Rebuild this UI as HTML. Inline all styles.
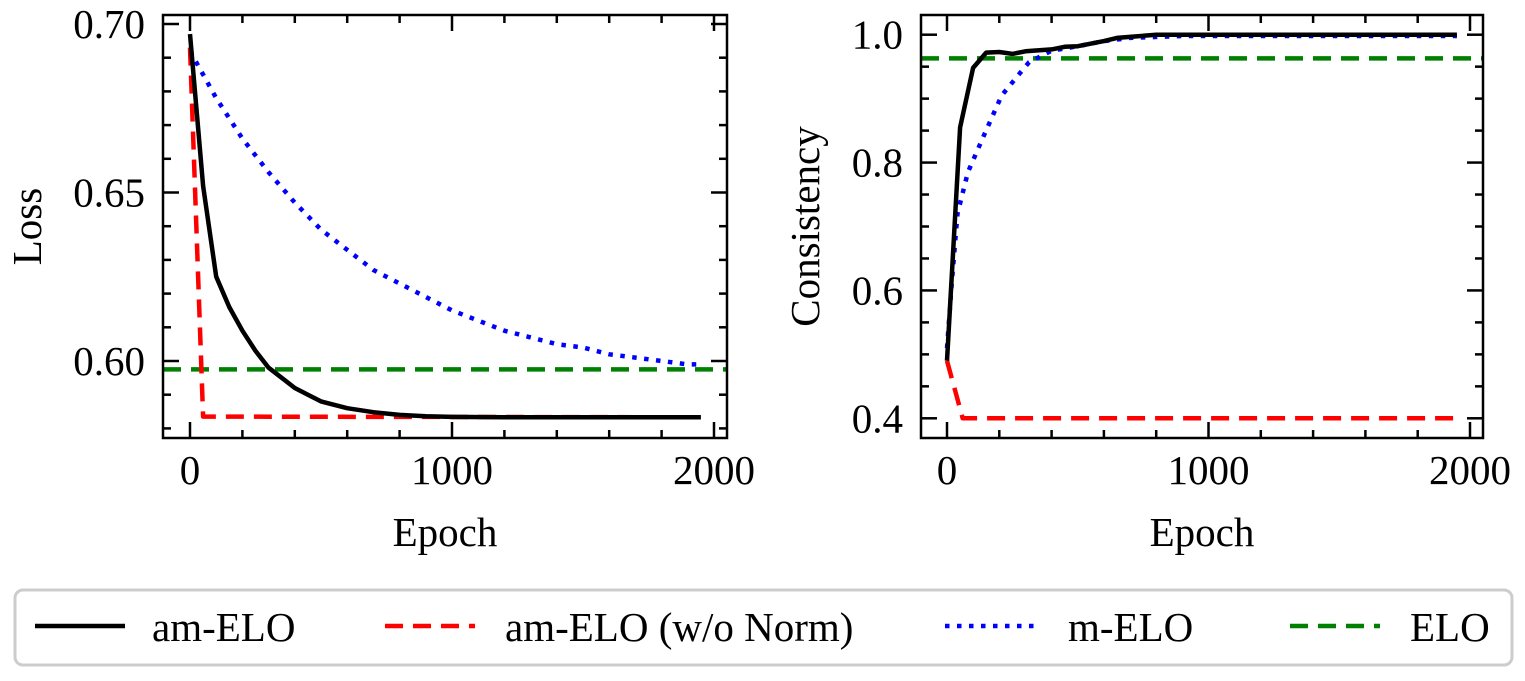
<!DOCTYPE html>
<html><head><meta charset="utf-8"><style>
html,body{margin:0;padding:0;background:#fff;}
svg{display:block;font-family:"Liberation Serif",serif;}
</style></head><body>
<svg id="fig" width="1525" height="681" viewBox="0 0 1525 681"></svg>
<script>
const lossEpochs=[0,50,100,150,200,250,300,350,400,450,500,600,700,800,900,1000,1200,1400,1600,1800,1950];
const lossAmElo=[0.697,0.652,0.625,0.616,0.609,0.603,0.598,0.595,0.592,0.590,0.588,0.586,0.5848,0.584,0.5836,0.5834,0.5833,0.5833,0.5833,0.5833,0.5833];
const lossNoNormEpochs=[0,50,1950];
const lossNoNorm=[0.693,0.5835,0.5833];
const lossMEloEpochs=[0,100,200,300,400,500,600,700,800,900,1000,1100,1200,1300,1400,1500,1600,1700,1800,1900,1950];
const lossMElo=[0.692,0.678,0.666,0.656,0.647,0.639,0.633,0.627,0.623,0.619,0.615,0.612,0.609,0.607,0.605,0.604,0.602,0.601,0.600,0.599,0.599];
const lossElo=0.5975;
const consAmEloEpochs=[0,50,100,150,200,250,300,400,450,500,600,650,800,1000,1500,1950];
const consAmElo=[0.49,0.855,0.948,0.972,0.973,0.970,0.974,0.977,0.981,0.982,0.990,0.995,1.0,1.0,1.0,1.0];
const consNoNormEpochs=[0,60,1950];
const consNoNorm=[0.49,0.40,0.40];
const consMEloEpochs=[0,20,40,80,145,209,279,314,400,500,600,700,900,1200,1950];
const consMElo=[0.51,0.62,0.72,0.785,0.846,0.905,0.94,0.957,0.975,0.982,0.99,0.995,0.998,0.998,0.998];
const consElo=0.963;
const xTicks=[0,1000,2000];
const lossTicks=[0.60,0.65,0.70];
const lossTickLabels=["0.60","0.65","0.70"];
const consTicks=[0.4,0.6,0.8,1.0];
const consTickLabels=["0.4","0.6","0.8","1.0"];

const NS="http://www.w3.org/2000/svg";
const svg=document.getElementById('fig');
function el(tag,attrs,parent){const e=document.createElementNS(NS,tag);for(const k in attrs)e.setAttribute(k,attrs[k]);(parent||svg).appendChild(e);return e;}
const FS='font-size:41px';

function panel(o){
  const g=el('g',{});
  
  
  const xs=v=>o.x0+(v-0)*(o.x2000-o.x0)/2000;
  const ys=v=>o.yA+(v-o.vA)*(o.yB-o.yA)/(o.vB-o.vA);
  const cid='clip'+o.name;
  const cp=el('clipPath',{id:cid},g);el('rect',{x:o.L,y:o.T,width:o.R-o.L,height:o.B-o.T},cp);
  const plot=el('g',{'clip-path':'url(#'+cid+')'},g);
  function line(xsArr,vals,color,dash,name,w){
    const p=el('polyline',{points:xsArr.map((x,i)=>xs(x).toFixed(1)+','+ys(vals[i]).toFixed(1)).join(' '),fill:'none',stroke:color,'stroke-width':w||4.5,'stroke-dasharray':dash||'none','stroke-linejoin':'round'},plot);
    
    
  }
  const eg=el('line',{x1:o.L,x2:o.R,y1:ys(o.elo),y2:ys(o.elo),stroke:'#008000','stroke-width':4.5,'stroke-dasharray':'18,10'},plot);
  
  
  line(o.mX,o.mV,'#0000ff','4.5,7.5','m-elo-line',4.5);
  line(o.nX,o.nV,'#ff0000','18,10','am-elo-no-norm-line');
  line(o.aX,o.aV,'#000000',null,'am-elo-line');
  el('rect',{x:o.L,y:o.T,width:o.R-o.L,height:o.B-o.T,fill:'none',stroke:'#000','stroke-width':2.5},g);
  for(let v=0;v<=2000;v+=200){const X=xs(v);const len=(v%1000===0)?16:8;
    el('line',{x1:X,x2:X,y1:o.B,y2:o.B-len,stroke:'#000','stroke-width':2.5},g);
    el('line',{x1:X,x2:X,y1:o.T,y2:o.T+len,stroke:'#000','stroke-width':2.5},g);}
  xTicks.forEach(v=>{const t=el('text',{x:xs(v),y:o.B+46,style:FS,'text-anchor':'middle'},g);t.textContent=v;
    });
  for(let v=o.minorStart;v<=o.minorEnd+1e-9;v+=o.minorStep){const Y=ys(v);
    const isMaj=o.yt.some(t=>Math.abs(t-v)<1e-6);const len=isMaj?16:8;
    el('line',{x1:o.L,x2:o.L+len,y1:Y,y2:Y,stroke:'#000','stroke-width':2.5},g);
    el('line',{x1:o.R,x2:o.R-len,y1:Y,y2:Y,stroke:'#000','stroke-width':2.5},g);}
  o.yt.forEach((v,i)=>{const t=el('text',{x:o.L-18,y:ys(v)+14,style:FS,'text-anchor':'end'},g);t.textContent=o.ytl[i];
    });
  const xl=el('text',{x:(o.L+o.R)/2,y:546,style:FS,'text-anchor':'middle'},g);xl.textContent='Epoch';
  
  const yl=el('text',{x:0,y:0,style:FS,'text-anchor':'middle',transform:'translate('+o.ylx+','+((o.T+o.B)/2)+') rotate(-90)'},g);yl.textContent=o.ylabel;
  
}
panel({name:'loss-panel',L:163,R:727,T:15,B:438,x0:190,x2000:714,yA:24,vA:0.70,yB:361,vB:0.60,
  aX:lossEpochs,aV:lossAmElo,nX:lossNoNormEpochs,nV:lossNoNorm,mX:lossMEloEpochs,mV:lossMElo,elo:lossElo,
  yt:lossTicks,ytl:lossTickLabels,minorStart:0.58,minorEnd:0.70,minorStep:0.01,ylabel:'Loss',ylx:41});
panel({name:'consistency-panel',L:921,R:1483,T:15,B:438,x0:947,x2000:1470,yA:34.7,vA:1.0,yB:418.3,vB:0.4,
  aX:consAmEloEpochs,aV:consAmElo,nX:consNoNormEpochs,nV:consNoNorm,mX:consMEloEpochs,mV:consMElo,elo:consElo,
  yt:consTicks,ytl:consTickLabels,minorStart:0.4,minorEnd:1.0,minorStep:0.05,ylabel:'Consistency',ylx:819});

const lg=el('g',{});


el('rect',{x:15,y:590,width:1497,height:75,rx:8,fill:'#fff',stroke:'#ccc','stroke-width':3},lg);
const legItems=[["am-ELO","#000",'none',35,152,4.5],["am-ELO (w/o Norm)","#ff0000",'18,10',385,505,4.5],["m-ELO","#0000ff",'4.5,7.5',945,1068,4.5],["ELO","#008000",'18,10',1290,1410,4.5]];
legItems.forEach(it=>{
  const e=el('g',{},lg);
  
  
  el('line',{x1:it[3],x2:it[3]+90,y1:626,y2:626,stroke:it[1],'stroke-width':it[5],'stroke-dasharray':it[2]},e);
  const t=el('text',{x:it[4],y:641,style:FS},e);t.textContent=it[0];
});
</script>
</body></html>
